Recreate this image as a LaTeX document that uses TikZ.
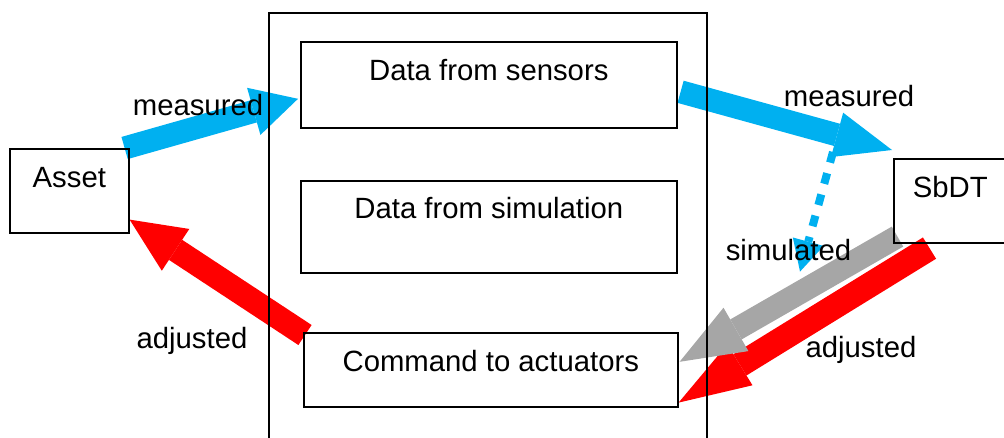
\documentclass[tikz,border=0pt]{standalone}
\usepackage{fontspec}
\setmainfont{Liberation Sans}
\usetikzlibrary{arrows.meta,calc}
\pgfdeclarelayer{flows}
\pgfsetlayers{flows,main}
\definecolor{flowblue}{RGB}{0,176,240}
\definecolor{flowred}{RGB}{255,0,0}
\definecolor{flowgray}{RGB}{166,166,166}
\begin{document}
\begin{tikzpicture}[x=1pt,y=-1pt,
  txt/.style={font=\fontsize{29.3pt}{35pt}\selectfont},
  box/.style n args={3}{txt,draw,line width=1.6pt,inner sep=0pt,
    anchor=north west,minimum width=#1,text height=#2,text depth=#3},
  lbl/.style={txt,inner sep=0pt,anchor=base},
  fat/.style n args={4}{draw=#1,line width=#2,
    -{Triangle[length=#3,width=#4,line width=0pt]}}]
\useasboundingbox (0,0) rectangle (1004,437);

% blocks
\node[box={119pt}{39pt}{45pt}] (asset) at (9,148) {Asset};
\node[box={376pt}{38.3pt}{47.7pt}] (sensors) at (300,41) {Data from sensors};
\node[box={376pt}{38pt}{54pt}] (simdata) at (300,180) {Data from simulation};
\node[box={374pt}{39pt}{35pt}] (command) at (303,332) {Command to actuators};
\node[box={113pt}{39pt}{45pt}] (sbdt) at (893,158) {SbDT};

% open frame around the data blocks
\draw[line width=1.4pt] (269,440) -- (269,13) -- (707,13) -- (707,440);

% flow arrows, kept beneath the frame and the blocks
\begin{pgfonlayer}{flows}
\draw[fat={flowblue}{23pt}{46pt}{49pt}]
  ($(asset.north east)+(-5,0)$) -- ($(sensors.west)+(-2,14)$);
\draw[fat={flowblue}{23pt}{57pt}{46pt}]
  ($(sensors.east)+(3,7)$) -- ($(sbdt.north west)+(-1,-8)$);
\coordinate (simstart) at ($(sbdt.north west)+(-60,-6)$);
\coordinate (simend) at ($(sbdt.south west)+(-93,28)$);
\draw[fat={flowblue}{8pt}{31pt}{32pt},dash pattern=on 11pt off 11pt]
  (simstart) -- (simend);
\draw[fat={flowred}{25pt}{72pt}{48pt}]
  ($(sbdt.south west)+(36.5,4.5)$) -- ($(command.south east)+(0,-5)$);
\draw[fat={flowgray}{23pt}{65pt}{50pt}]
  ($(sbdt.south west)+(4.5,-7)$) -- ($(command.east)+(1,-8)$);
\draw[fat={flowred}{24pt}{55pt}{50pt}]
  ($(command.north west)+(2,3)$) -- ($(asset.south east)+(0,-14)$);
\end{pgfonlayer}

% arrow labels
\node[lbl] (lmeasin) at (198,115) {measured};
\node[lbl] (lmeasout) at (849,106) {measured};
\node[lbl] (lsim) at (788.5,260) {simulated};
\node[lbl] (ladjout) at (861,357) {adjusted};
\node[lbl] (ladjin) at (192,348) {adjusted};
\end{tikzpicture}
\end{document}
